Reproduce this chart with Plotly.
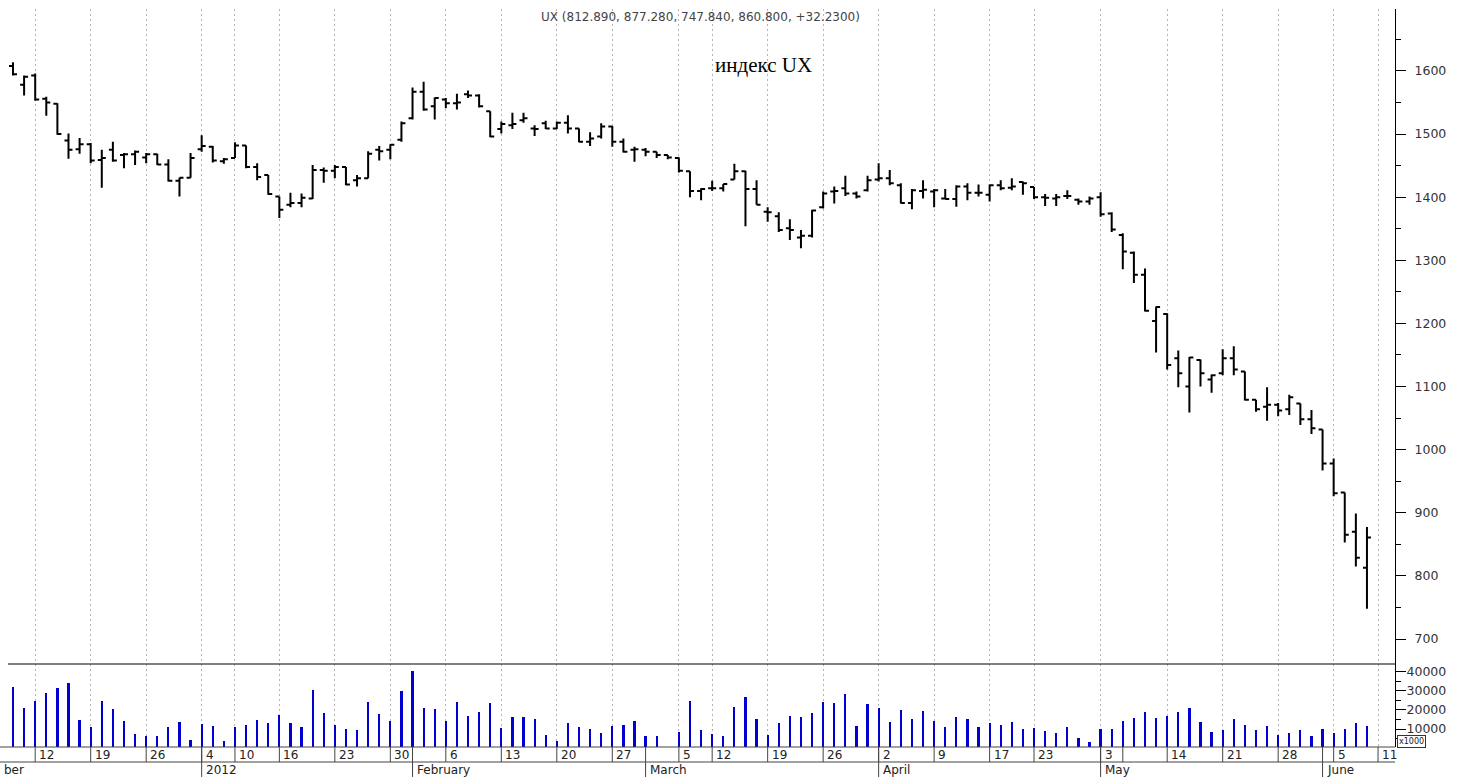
import plotly.graph_objects as go

# ---------------- data ----------------
dates = [
    "2011-12-08", "2011-12-09", "2011-12-12", "2011-12-13", "2011-12-14", "2011-12-15", "2011-12-16",
    "2011-12-19", "2011-12-20", "2011-12-21", "2011-12-22", "2011-12-23", "2011-12-26", "2011-12-27",
    "2011-12-28", "2011-12-29", "2011-12-30",
    "2012-01-04", "2012-01-05", "2012-01-06", "2012-01-10", "2012-01-11", "2012-01-12", "2012-01-13",
    "2012-01-16", "2012-01-17", "2012-01-18", "2012-01-19", "2012-01-20", "2012-01-23", "2012-01-24",
    "2012-01-25", "2012-01-26", "2012-01-27", "2012-01-30", "2012-01-31",
    "2012-02-01", "2012-02-02", "2012-02-03", "2012-02-06", "2012-02-07", "2012-02-08", "2012-02-09",
    "2012-02-10", "2012-02-13", "2012-02-14", "2012-02-15", "2012-02-16", "2012-02-17", "2012-02-20",
    "2012-02-21", "2012-02-22", "2012-02-23", "2012-02-24", "2012-02-27", "2012-02-28", "2012-02-29",
    "2012-03-01", "2012-03-02", "2012-03-03", "2012-03-05", "2012-03-06", "2012-03-07", "2012-03-12",
    "2012-03-13", "2012-03-14", "2012-03-15", "2012-03-16", "2012-03-19", "2012-03-20", "2012-03-21",
    "2012-03-22", "2012-03-23", "2012-03-26", "2012-03-27", "2012-03-28", "2012-03-29", "2012-03-30",
    "2012-04-02", "2012-04-03", "2012-04-04", "2012-04-05", "2012-04-06", "2012-04-09", "2012-04-10",
    "2012-04-11", "2012-04-12", "2012-04-13", "2012-04-17", "2012-04-18", "2012-04-19", "2012-04-20",
    "2012-04-23", "2012-04-24", "2012-04-25", "2012-04-26", "2012-04-27", "2012-04-28",
    "2012-05-03", "2012-05-04", "2012-05-07", "2012-05-08", "2012-05-10", "2012-05-11", "2012-05-14",
    "2012-05-15", "2012-05-16", "2012-05-17", "2012-05-18", "2012-05-21", "2012-05-22", "2012-05-23",
    "2012-05-24", "2012-05-25", "2012-05-28", "2012-05-29", "2012-05-30", "2012-05-31",
    "2012-06-01", "2012-06-05", "2012-06-06", "2012-06-07", "2012-06-08",
]
pre_dates = ["2011-12-01", "2011-12-02", "2011-12-05", "2011-12-06", "2011-12-07"]
post_dates = ["2012-06-11"]

opens = [
    1608, 1578, 1593, 1556, 1548, 1490, 1476, 1484, 1459, 1475, 1467, 1468, 1463, 1468, 1452, 1426, 1431,
    1476, 1480, 1457, 1462, 1482, 1448, 1435, 1401, 1388, 1391, 1398, 1443, 1442, 1448, 1427, 1430, 1475,
    1475, 1491,
    1525, 1567, 1544, 1555, 1549, 1563, 1561, 1536, 1508, 1514, 1522, 1509, 1517, 1509, 1518, 1509, 1488,
    1496, 1512, 1488, 1475,
    1475, 1472, 1467, 1462, 1441, 1410, 1414, 1414, 1428, 1441, 1413, 1377, 1370, 1351, 1336, 1339, 1384,
    1409, 1414, 1406, 1411,
    1428, 1430, 1419, 1391, 1410, 1409, 1398, 1397, 1417, 1407, 1404, 1419, 1415, 1424, 1416, 1400, 1398,
    1402, 1396, 1393,
    1400, 1374, 1340, 1312, 1277, 1204, 1215, 1145, 1100, 1142, 1111, 1121, 1145, 1124, 1079, 1068, 1071,
    1064, 1073, 1048,
    1032, 978, 932, 870, 812.89,
]
highs = [
    1614, 1593, 1596, 1559, 1549, 1501, 1494, 1486, 1475, 1488, 1470, 1474, 1470, 1469, 1460, 1431, 1470,
    1498, 1481, 1462, 1487, 1482, 1454, 1435, 1401, 1407, 1406, 1451, 1447, 1451, 1448, 1435, 1473, 1481,
    1484, 1520,
    1574, 1583, 1558, 1557, 1564, 1569, 1563, 1536, 1520, 1534, 1534, 1514, 1521, 1520, 1530, 1509, 1503,
    1517, 1513, 1493, 1480,
    1478, 1472, 1467, 1463, 1441, 1414, 1426, 1421, 1453, 1442, 1427, 1384, 1376, 1365, 1348, 1380, 1409,
    1417, 1434, 1409, 1434,
    1454, 1443, 1422, 1413, 1427, 1413, 1413, 1419, 1422, 1420, 1420, 1427, 1430, 1425, 1416, 1405, 1405,
    1411, 1398, 1401,
    1408, 1376, 1343, 1314, 1287, 1227, 1216, 1157, 1147, 1143, 1119, 1159, 1164, 1124, 1079, 1099, 1074,
    1087, 1073, 1063,
    1032, 986, 932, 899, 877.28,
]
lows = [
    1593, 1561, 1553, 1529, 1499, 1461, 1469, 1454, 1415, 1456, 1446, 1451, 1454, 1451, 1425, 1401, 1431,
    1472, 1455, 1453, 1462, 1446, 1427, 1404, 1367, 1384, 1384, 1397, 1423, 1430, 1419, 1417, 1430, 1458,
    1460, 1488,
    1523, 1537, 1523, 1541, 1539, 1557, 1542, 1495, 1501, 1508, 1518, 1497, 1508, 1508, 1501, 1487, 1481,
    1493, 1480, 1471, 1456,
    1465, 1462, 1460, 1439, 1400, 1395, 1410, 1409, 1428, 1354, 1388, 1361, 1345, 1332, 1319, 1336, 1382,
    1390, 1402, 1398, 1409,
    1425, 1419, 1390, 1381, 1398, 1384, 1397, 1385, 1395, 1401, 1393, 1411, 1411, 1404, 1397, 1386, 1386,
    1397, 1388, 1388,
    1369, 1345, 1286, 1264, 1219, 1154, 1127, 1099, 1059, 1100, 1090, 1118, 1118, 1078, 1060, 1046, 1053,
    1055, 1039, 1025,
    967, 926, 853, 815, 747.84,
]
closes = [
    1595, 1591, 1555, 1550, 1500, 1475, 1484, 1458, 1462, 1458, 1468, 1472, 1468, 1452, 1426, 1431, 1462,
    1481, 1458, 1460, 1482, 1448, 1432, 1405, 1380, 1391, 1399, 1443, 1442, 1448, 1420, 1430, 1469, 1473,
    1483, 1517,
    1567, 1539, 1557, 1549, 1550, 1561, 1544, 1496, 1516, 1516, 1525, 1508, 1509, 1518, 1509, 1488, 1493,
    1512, 1488, 1472, 1476,
    1472, 1467, 1463, 1442, 1410, 1413, 1414, 1421, 1441, 1413, 1388, 1376, 1348, 1348, 1339, 1379, 1406,
    1410, 1406, 1401, 1427,
    1430, 1422, 1391, 1411, 1412, 1411, 1397, 1417, 1407, 1407, 1419, 1414, 1417, 1422, 1400, 1399, 1400,
    1402, 1393, 1398,
    1373, 1349, 1314, 1277, 1220, 1226, 1134, 1121, 1146, 1121, 1118, 1145, 1127, 1079, 1064, 1071, 1062,
    1083, 1048, 1034,
    978, 931, 865, 828.57, 860.80,
]
volumes = [
    32150, 21150, 24820, 28690, 31310, 34240, 14710, 10890, 24660, 20630, 14190, 7540, 6180, 6490, 11200,
    13670, 4240,
    12460, 11730, 3870, 11200, 11940, 14710, 13140, 17170, 13140, 10890, 30260, 18220, 12100, 9840, 9320,
    23980, 17850, 14030, 29900,
    40210, 21150, 20630, 14030, 23980, 16960, 18900, 23790, 10700, 16110, 16460, 15410, 6860, 3720, 12970,
    10870, 9830, 8080, 11740, 11920, 14190,
    6510, 6160, 0, 8600, 24490, 9480, 7380, 6160, 21690, 26930, 15060, 7030, 13320, 16980, 16460, 18200,
    24140, 23610, 28150, 11740, 22920,
    21170, 13840, 19780, 15410, 19600, 14020, 10870, 16110, 15060, 10870, 13320, 11920, 13670, 9830, 10350,
    8950, 8080, 10870, 5460, 3190,
    9830, 9830, 14190, 15930, 18900, 15590, 16980, 18730, 21000, 13670, 8600, 9480, 15060, 12270, 9480,
    11400, 6690, 8080, 9480, 6510,
    10000, 8080, 9830, 13140, 11740,
]

week_dates = [
    "2011-12-12", "2011-12-19", "2011-12-26", "2012-01-04", "2012-01-10", "2012-01-16", "2012-01-23",
    "2012-01-30", "2012-02-06", "2012-02-13", "2012-02-20", "2012-02-27", "2012-03-05", "2012-03-12",
    "2012-03-19", "2012-03-26", "2012-04-02", "2012-04-09", "2012-04-17", "2012-04-23", "2012-05-03",
    "2012-05-07", "2012-05-14", "2012-05-21", "2012-05-28", "2012-06-05", "2012-06-11",
]
week_labels = ["12", "19", "26", "4", "10", "16", "23", "30", "6", "13", "20", "27", "5", "12", "19",
               "26", "2", "9", "17", "23", "3", "", "14", "21", "28", "5", "11"]
grid_skip = ["2012-05-07"]
# the December label is cut by the left edge in the original: only "ber" is visible
month_dates = ["2011-12-08", "2012-01-04", "2012-02-01", "2012-03-01", "2012-04-02", "2012-05-03",
               "2012-06-01"]
month_labels = ["ber", "2012", "February", "March", "April", "May", "June"]

price_ticks = [700, 800, 900, 1000, 1100, 1200, 1300, 1400, 1500, 1600]
volume_ticks = [10000, 20000, 30000, 40000]
title_text = "UX (812.890, 877.280, 747.840, 860.800, +32.2300)"
chart_label = "индекс UX"
volume_unit = "x1000"

# ---------------- layout helpers ----------------
W, H = 1463, 777
ML, MR, MT, MB = 8, 68, 9, 30
PW, PH = W - ML - MR, H - MT - MB
STEP = 11.098                      # pixels per trading day
X0 = -5 / STEP
X1 = X0 + PW / STEP
SPLIT = 83 / PH                    # volume panel share of plot height
PRICE_RANGE = [660.4, 1698.2]
VOL_RANGE = [576, 44031]

calendar = pre_dates + dates + post_dates


def pos(d):
    return calendar.index(d) - len(pre_dates)


def px_y(p):
    return (H - MB - p) / PH


def px_x(p):
    return (p - ML) / PW


xs = list(range(len(dates)))

fig = go.Figure()
fig.add_trace(go.Ohlc(
    x=xs, open=opens, high=highs, low=lows, close=closes,
    increasing=dict(line=dict(color="black", width=2)),
    decreasing=dict(line=dict(color="black", width=2)),
    tickwidth=0.36, xaxis="x", yaxis="y", hoverinfo="skip",
))
fig.add_trace(go.Bar(
    x=xs, y=volumes, width=0.2, marker=dict(color="#0000d0", line=dict(width=0)),
    xaxis="x", yaxis="y2", hoverinfo="skip",
))

grid_vals = [pos(d) for d in week_dates if d not in grid_skip]

tick_font = dict(family="DejaVu Sans", size=12.5, color="#333333")

fig.update_layout(
    width=W, height=H, autosize=False,
    margin=dict(l=ML, r=MR, t=MT, b=MB, pad=0),
    paper_bgcolor="white", plot_bgcolor="white",
    showlegend=False, bargap=0,
    xaxis=dict(
        range=[X0, X1], anchor="y2", showticklabels=False, ticks="",
        tickmode="array", tickvals=grid_vals,
        showgrid=True, gridcolor="#b4b4b4", gridwidth=1, griddash="2px,3px",
        zeroline=False, showline=False, rangeslider=dict(visible=False),
        fixedrange=True,
    ),
    yaxis=dict(
        domain=[SPLIT, 1], range=PRICE_RANGE, side="right", anchor="x",
        tickmode="array", tickvals=price_ticks, ticktext=[str(v) for v in price_ticks],
        ticks="outside", ticklen=10, tickcolor="black", tickwidth=1,
        minor=dict(tickmode="linear", tick0=0, dtick=50, ticks="outside", ticklen=5,
                   tickcolor="black", showgrid=False),
        showline=True, linecolor="black", linewidth=1,
        showgrid=False, zeroline=False, tickfont=tick_font, ticklabelstandoff=6,
    ),
    yaxis2=dict(
        domain=[0, SPLIT], range=VOL_RANGE, side="right", anchor="x",
        tickmode="array", tickvals=volume_ticks, ticktext=[str(v) for v in volume_ticks],
        ticks="outside", ticklen=10, tickcolor="black", tickwidth=1,
        minor=dict(tickmode="linear", tick0=0, dtick=5000, ticks="outside", ticklen=5,
                   tickcolor="black", showgrid=False),
        showline=True, linecolor="black", linewidth=1,
        showgrid=False, zeroline=False, tickfont=tick_font, ticklabelstandoff=-2,
    ),
)

shapes = []
# white boxes behind header texts (interrupt the grid)
shapes.append(dict(type="rect", xref="paper", yref="paper", x0=px_x(530), x1=px_x(870),
                   y0=px_y(33), y1=px_y(9), fillcolor="white", line=dict(width=0), layer="between"))
shapes.append(dict(type="rect", xref="paper", yref="paper", x0=px_x(690), x1=px_x(836),
                   y0=px_y(88), y1=px_y(9), fillcolor="white", line=dict(width=0), layer="between"))
# panel separator
shapes.append(dict(type="line", xref="paper", yref="paper", x0=0, x1=1, y0=SPLIT, y1=SPLIT,
                   line=dict(color="black", width=1)))
# date scale rows
for yy in (0, -15 / PH):
    shapes.append(dict(type="line", xref="paper", yref="paper", x0=px_x(0), x1=1, y0=yy, y1=yy,
                       line=dict(color="#444444", width=1)))
for d in week_dates:
    shapes.append(dict(type="line", xref="x", yref="paper", x0=pos(d), x1=pos(d), y0=0, y1=-15 / PH,
                       line=dict(color="#444444", width=1)))
for d in month_dates[1:]:
    shapes.append(dict(type="line", xref="x", yref="paper", x0=pos(d), x1=pos(d), y0=0,
                       y1=-30 / PH, line=dict(color="#444444", width=1)))
fig.update_layout(shapes=shapes)

ann = []
ann.append(dict(text=title_text, xref="paper", yref="paper", x=px_x(700), y=px_y(17),
                xanchor="center", yanchor="middle", showarrow=False,
                font=dict(family="DejaVu Sans", size=12, color="#444444")))
ann.append(dict(text=chart_label, xref="paper", yref="paper", x=px_x(763), y=px_y(65),
                xanchor="center", yanchor="middle", showarrow=False,
                font=dict(family="Liberation Serif", size=21, color="black")))
label_font = dict(family="DejaVu Sans", size=12, color="#222222")
for d, t in zip(week_dates, week_labels):
    if t:
        ann.append(dict(text=t, xref="paper", yref="paper", x=(pos(d) - X0) / (X1 - X0), y=px_y(755),
                        xanchor="left", yanchor="middle", xshift=2, showarrow=False, font=label_font))
ann.append(dict(text=month_labels[0], xref="paper", yref="paper", x=px_x(2), y=px_y(770),
                xanchor="left", yanchor="middle", showarrow=False, font=label_font))
for d, t in zip(month_dates[1:], month_labels[1:]):
    ann.append(dict(text=t, xref="paper", yref="paper", x=(pos(d) - X0) / (X1 - X0), y=px_y(770),
                    xanchor="left", yanchor="middle", xshift=2, showarrow=False, font=label_font))
ann.append(dict(text=volume_unit, xref="paper", yref="paper", x=px_x(1397), y=px_y(741),
                xanchor="left", yanchor="middle", showarrow=False, borderwidth=1, bordercolor="#333333",
                borderpad=1, bgcolor="white",
                font=dict(family="DejaVu Sans", size=8, color="#222222")))
fig.update_layout(annotations=ann)

fig.write_html("out.html", config=dict(displayModeBar=False),
               post_script="document.body.style.margin='0';document.body.style.overflow='hidden';")
